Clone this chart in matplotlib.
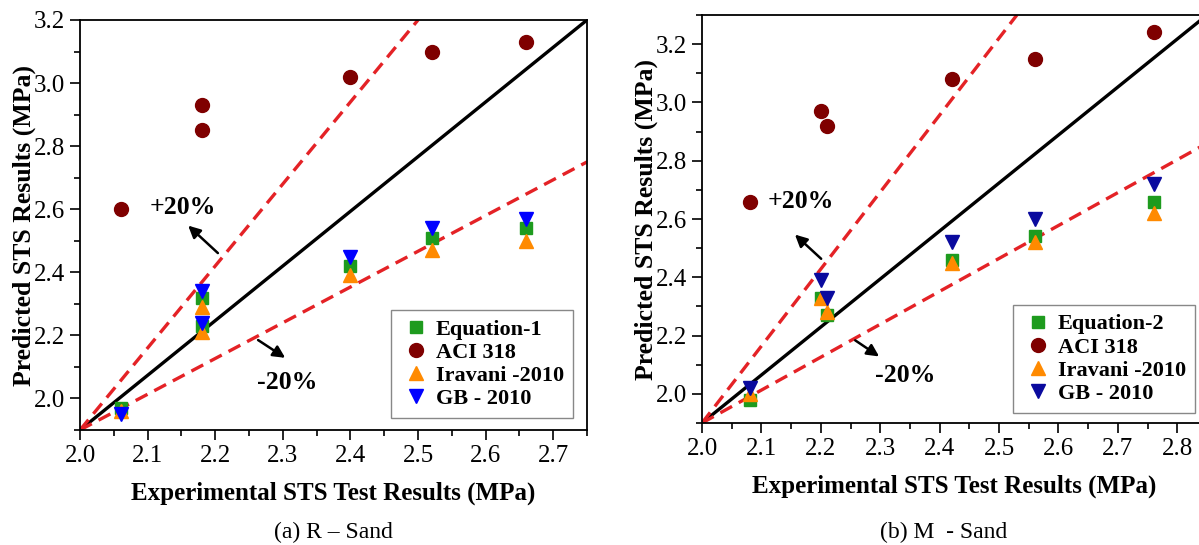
import numpy as np
import matplotlib
matplotlib.use("Agg")
import matplotlib.pyplot as plt
from matplotlib.ticker import MultipleLocator

plt.rcParams['font.family'] = ['Liberation Serif', 'DejaVu Serif']

# (a) R - Sand
exp_r = [2.06, 2.18, 2.18, 2.40, 2.52, 2.66]
eq1_r = [1.97, 2.32, 2.23, 2.42, 2.51, 2.54]
aci_r = [2.60, 2.93, 2.85, 3.02, 3.10, 3.13]
irv_r = [1.96, 2.29, 2.21, 2.39, 2.47, 2.50]
gb_r = [1.95, 2.34, 2.24, 2.45, 2.54, 2.57]

# (b) M - Sand
exp_m = [2.08, 2.20, 2.21, 2.42, 2.56, 2.76]
eq2_m = [1.98, 2.33, 2.27, 2.46, 2.54, 2.66]
aci_m = [2.66, 2.97, 2.92, 3.08, 3.15, 3.24]
irv_m = [2.00, 2.33, 2.28, 2.45, 2.52, 2.62]
gb_m = [2.02, 2.39, 2.33, 2.52, 2.60, 2.72]

# reference lines (x ends, y ends)
ref_r = {'x': [2.0, 2.75], 'eq': [1.9, 3.2], 'up_x': [2.0, 2.5], 'up': [1.9, 3.2], 'lo': [1.9, 2.75]}
ref_m = {'x': [2.0, 2.85], 'eq': [1.9, 3.3], 'up_x': [2.0, 2.53], 'up': [1.9, 3.3], 'lo': [1.9, 2.86]}

fig = plt.figure(figsize=(11.99, 5.45), dpi=100)
ax1 = fig.add_axes([80/1199, 115/545, 507/1199, 410/545])
ax2 = fig.add_axes([702/1199, 122/545, 505/1199, 408/545])

green = '#1e9b1e'
dred = '#7f0000'
orange = '#ff8a00'
red = '#e42226'


def draw(ax, ex, eq, aci, irv, gb, ref, eqname, gbcol, xlim, ylim, ann):
    ax.plot(ref['x'], ref['eq'], color='black', lw=2.4, zorder=2)
    ax.plot(ref['up_x'], ref['up'], color=red, lw=2.4, ls=(0, (4, 2.3)), zorder=2)
    ax.plot(ref['x'], ref['lo'], color=red, lw=2.4, ls=(0, (4, 2.3)), zorder=2)
    ms = 9
    ax.plot(ex, aci, 'o', color=dred, ms=ms + 1, ls='none', label='ACI 318', zorder=3)
    ax.plot(ex, eq, 's', color=green, ms=ms - 1, ls='none', label=eqname, zorder=4)
    ax.plot(ex, irv, '^', color=orange, ms=ms + 1.5, ls='none', label='Iravani -2010', zorder=5)
    ax.plot(ex, gb, 'v', color=gbcol, ms=ms + 1.5, ls='none', label='GB - 2010', zorder=6)
    h, l = ax.get_legend_handles_labels()
    order = [1, 0, 2, 3]
    ax.legend([h[i] for i in order], [l[i] for i in order], loc='lower right',
              bbox_to_anchor=ann['leg'], prop={'weight': 'bold', 'size': 16},
              fancybox=False, edgecolor='#888888', framealpha=1, handletextpad=0.2,
              labelspacing=0.12, borderpad=0.4, handlelength=1.4, borderaxespad=0)
    ax.set_xlim(*xlim)
    ax.set_ylim(*ylim)
    ax.xaxis.set_major_locator(MultipleLocator(0.1))
    ax.xaxis.set_minor_locator(MultipleLocator(0.05))
    ax.yaxis.set_major_locator(MultipleLocator(0.2))
    ax.yaxis.set_minor_locator(MultipleLocator(0.1))
    ax.xaxis.set_major_formatter(lambda v, p: f'{v:.1f}')
    ax.yaxis.set_major_formatter(lambda v, p: f'{v:.1f}')
    ax.tick_params(which='major', direction='out', length=7, width=1.2, labelsize=18, pad=4)
    ax.tick_params(which='minor', direction='out', length=4, width=1.2)
    for s in ax.spines.values():
        s.set_linewidth(1.3)
    ax.set_xlabel('Experimental STS Test Results (MPa)', fontsize=18, fontweight='bold', labelpad=10)
    ax.set_ylabel('Predicted STS Results (MPa)', fontsize=18.5, fontweight='bold', labelpad=-2)
    ax.text(*ann['up_t'], '+20%', fontsize=18.5, fontweight='bold', ha='center', va='center')
    ax.text(*ann['lo_t'], '-20%', fontsize=18.5, fontweight='bold', ha='center', va='center')
    ax.annotate('', xy=ann['up_h'], xytext=ann['up_s'],
                arrowprops=dict(arrowstyle='-|>', color='black', lw=1.8, mutation_scale=18))
    ax.annotate('', xy=ann['lo_h'], xytext=ann['lo_s'],
                arrowprops=dict(arrowstyle='-|>', color='black', lw=1.8, mutation_scale=18))


ann_r = {'up_t': (2.152, 2.604), 'up_s': (2.207, 2.455), 'up_h': (2.157, 2.554),
         'lo_t': (2.306, 2.052), 'lo_s': (2.26, 2.19), 'lo_h': (2.307, 2.124),
         'leg': (0.972, 0.029)}
ann_m = {'up_t': (2.166, 2.66), 'up_s': (2.204, 2.457), 'up_h': (2.153, 2.553),
         'lo_t': (2.342, 2.063), 'lo_s': (2.254, 2.189), 'lo_h': (2.302, 2.123),
         'leg': (0.976, 0.0245)}

draw(ax1, exp_r, eq1_r, aci_r, irv_r, gb_r, ref_r, 'Equation-1', '#0000ff',
     (2.0, 2.75), (1.9, 3.2), ann_r)
draw(ax2, exp_m, eq2_m, aci_m, irv_m, gb_m, ref_m, 'Equation-2', '#0a0a9e',
     (2.0, 2.85), (1.9, 3.3), ann_m)

fig.text(333/1199, 1 - 532/545, '(a) R \u2013 Sand', fontsize=17, ha='center', va='center')
fig.text(944/1199, 1 - 532/545, '(b) M  - Sand', fontsize=17, ha='center', va='center')

fig.savefig('out.png', dpi=100)
